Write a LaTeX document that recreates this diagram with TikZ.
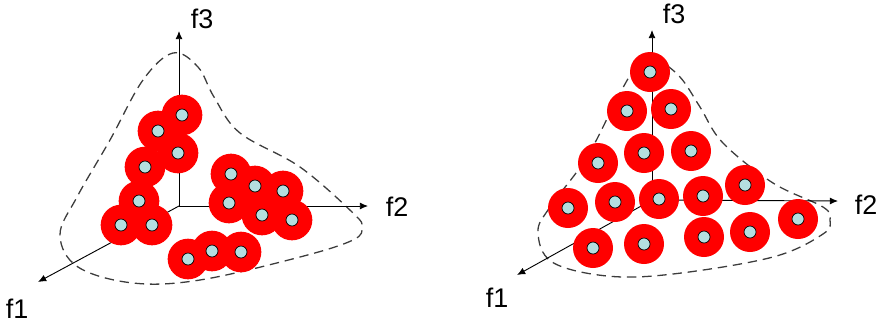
\documentclass[tikz,border=0pt]{standalone}
\usepackage{fontspec}
\setmainfont{Liberation Sans}
\usetikzlibrary{arrows.meta}
\definecolor{dotblue}{RGB}{180,222,224}
\definecolor{rimgray}{RGB}{60,60,60}

\begin{document}
\begin{tikzpicture}[
					x=0.03cm,y=-0.03cm,
					disc/.style={circle,fill=red,inner sep=0pt,minimum size=1.22cm},
					pip/.style={circle,draw=black,fill=dotblue,line width=0.6pt,inner sep=0pt,minimum size=0.36cm},
					axis/.style={draw=black,line width=0.8pt,-{Latex[length=7pt,width=6pt]}},
					rim/.style={draw=rimgray,line width=1.1pt,dash pattern=on 8pt off 5pt},
					lbl/.style={inner sep=0pt,font=\fontsize{23}{27}\selectfont}
					]
					\useasboundingbox (0,0) rectangle (881,324);
					% left front
					\draw[rim] plot[smooth cycle,tension=0.6] coordinates {(173,53) (143,80) (110,140) (77,197) (60,235) (78,267) (133,283) (200,280) (300,257) (353,240) (362,227) (353,213) (300,167) (240,133) (214,97) (198,67)};
					\coordinate (oa) at (179,206);
					\coordinate (xa) at (38,282);
					\coordinate (ya) at (368,206);
					\coordinate (za) at (179,31);
					\draw[axis] (oa) -- (xa);
					\draw[axis] (oa) -- (ya);
					\draw[axis] (oa) -- (za);
					\node[lbl] (fa1) at (17,309) {f1};
					\node[lbl] (fa2) at (397,207) {f2};
					\node[lbl] (fa3) at (202,19) {f3};
					\foreach \i/\px/\py in {1/182/115,2/158/131,3/178/153,4/145/167,5/139/201,6/121/225,7/152/225,8/231/174,9/255/186,10/283/191,11/229/203,12/262/215,13/292/220,14/188/259,15/212/251,16/241/252}{
						\node[disc] (la\i) at (\px,\py) {};
					}
					\foreach \i in {1,...,16}{
						\node[pip] (pa\i) at (la\i.center) {};
					}
					% right front
					\draw[rim] plot[smooth cycle,tension=0.6] coordinates {(640,62) (620,93) (587,157) (550,207) (538,232) (552,262) (607,276) (673,274) (773,257) (823,234) (830,220) (823,207) (773,183) (723,143) (700,107) (680,77) (657,60)};
					\coordinate (ob) at (652,200);
					\coordinate (xb) at (517,275);
					\coordinate (yb) at (838,201);
					\coordinate (zb) at (652,30);
					\draw[axis] (ob) -- (xb);
					\draw[axis] (ob) -- (yb);
					\draw[axis] (ob) -- (zb);
					\node[lbl] (fb1) at (497,298) {f1};
					\node[lbl] (fb2) at (866,205) {f2};
					\node[lbl] (fb3) at (674,14) {f3};
					\foreach \i/\px/\py in {1/650/72,2/627/111,3/671/109,4/598/163,5/644/153,6/691/151,7/568/208,8/615/202,9/659/199,10/703/196,11/745/185,12/593/248,13/644/244,14/704/237,15/750/232,16/798/219}{
						\node[disc,minimum size=1.2cm] (lb\i) at (\px,\py) {};
						\node[pip] (pb\i) at (lb\i.center) {};
					}
				\end{tikzpicture}
\end{document}
